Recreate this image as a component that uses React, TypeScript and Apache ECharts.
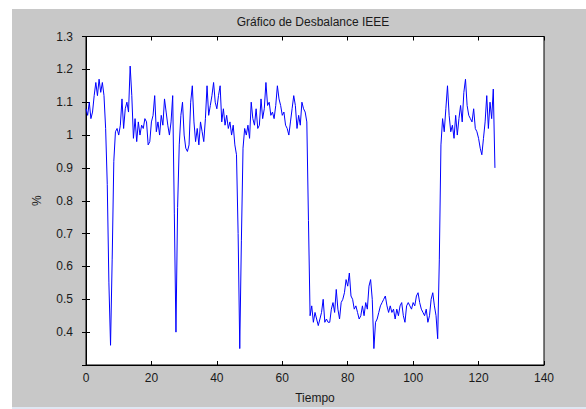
import React, { useEffect, useRef } from "react";
import * as echarts from "echarts";

const chartTitle = "Gráfico de Desbalance IEEE";
const xAxisName = "Tiempo";
const yAxisName = "%";
const xTicks = [0, 20, 40, 60, 80, 100, 120, 140];
const yTicks = [0.3, 0.4, 0.5, 0.6, 0.7, 0.8, 0.9, 1.0, 1.1, 1.2, 1.3];

// sample time spacing of the measurement
const sampleStart = 0;
const sampleStep = 0.5;

// t = 0 .. 28.5
const valuesA = [
  1.08, 1.06, 1.1, 1.05, 1.07, 1.12, 1.16, 1.12, 1.17, 1.13, 1.16, 1.12, 1.02,
  0.85, 0.55, 0.36, 0.62, 0.92, 1.01, 1.02, 1.0, 1.03, 1.11, 1.02, 1.08, 1.1,
  1.07, 1.21, 1.12, 0.99, 1.05, 0.98, 1.04, 1.0, 1.03, 1.02, 1.05, 1.04, 0.97,
  0.98, 1.04, 1.06, 1.12, 1.01, 1.04, 1.0, 1.06, 1.03, 1.11, 1.07, 1.03, 1.0,
  1.04, 1.12, 0.76, 0.4, 0.78, 0.97,
];
// t = 29 .. 68
const valuesB = [
  1.06, 1.1, 1.0, 0.96, 0.95, 0.97, 1.1, 1.15, 1.04, 0.98, 1.02, 0.97, 1.04,
  1.01, 0.98, 1.05, 1.15, 1.06, 1.09, 1.12, 1.16, 1.1, 1.08, 1.12, 1.15, 1.04,
  1.08, 1.03, 1.06, 1.02, 1.04, 1.0, 1.03, 0.97, 0.94, 0.7, 0.35, 0.68, 0.96,
  1.02, 1.0, 1.03, 0.99, 1.1, 1.05, 1.03, 1.08, 1.02, 1.03, 1.11, 1.05, 1.08,
  1.16, 1.09, 1.1, 1.06, 1.07, 1.05, 1.09, 1.15, 1.11, 1.09, 1.06, 1.07, 1.03,
  1.02, 1.0, 1.04, 1.08, 1.12, 1.09, 1.02, 1.06, 1.03, 1.1, 1.08, 1.07, 1.04,
  0.74,
];
// t = 68.5 .. 107.5
const valuesC = [
  0.45, 0.48, 0.43, 0.46, 0.44, 0.42, 0.44, 0.46, 0.5, 0.43, 0.44, 0.43, 0.43,
  0.47, 0.49, 0.46, 0.53, 0.47, 0.44, 0.49, 0.5, 0.52, 0.56, 0.54, 0.58, 0.51,
  0.5, 0.47, 0.48, 0.46, 0.44, 0.45, 0.48, 0.45, 0.49, 0.47, 0.54, 0.56, 0.5,
  0.35, 0.43, 0.44, 0.46, 0.48, 0.49, 0.5, 0.51, 0.48, 0.46, 0.48, 0.46, 0.47,
  0.44, 0.47, 0.45, 0.48, 0.49, 0.45, 0.43, 0.48, 0.49, 0.48, 0.47, 0.49, 0.48,
  0.51, 0.52, 0.49, 0.47, 0.46, 0.45, 0.47, 0.43, 0.45, 0.5, 0.52, 0.48, 0.45,
  0.38,
];
// t = 108 .. 125
const valuesD = [
  0.62, 0.97, 1.05, 1.01, 1.08, 1.15, 1.06, 1.01, 1.03, 0.99, 1.06, 1.0, 1.05,
  1.09, 1.04, 1.13, 1.17, 1.09, 1.06, 1.05, 1.04, 1.08, 1.02, 1.01, 0.99, 0.96,
  0.94, 0.99, 1.04, 1.12, 1.02, 1.1, 1.05, 1.14, 0.9,
];

const FONT = "'Liberation Sans', Arial, Helvetica, sans-serif";
const TEXT = "#1a1a1a";

export default function App() {
  const ref = useRef<HTMLDivElement>(null);
  useEffect(() => {
    if (!ref.current) return;
    const chart = echarts.init(ref.current, null, { renderer: "svg" });
    const values = [...valuesA, ...valuesB, ...valuesC, ...valuesD];
    const data = values.map((v, i) => [sampleStart + i * sampleStep, v]);
    const xMin = xTicks[0];
    const xMax = xTicks[xTicks.length - 1];
    const xInt = xTicks[1] - xTicks[0];
    const yMin = yTicks[0];
    const yMax = yTicks[yTicks.length - 1];
    const fmtY = (v: number) => String(parseFloat(v.toFixed(1)));
    const tick = { show: true, inside: true, length: 4, lineStyle: { color: "#000", width: 1 } };
    const line = { show: true, lineStyle: { color: "#000", width: 1 } };
    chart.setOption({
      animation: false,
      backgroundColor: "#ffffff",
      graphic: [
        { type: "rect", z: -100, shape: { x: 12, y: 9, width: 574, height: 398 }, style: { fill: "#c8c8c8" } },
        { type: "rect", z: -100, shape: { x: 12, y: 407, width: 574, height: 2 }, style: { fill: "#dfe7f2" } },
        {
          type: "text",
          z: 100,
          x: 313,
          y: 22,
          style: {
            text: chartTitle,
            fill: TEXT,
            font: `12px ${FONT}`,
            textAlign: "center",
            textVerticalAlign: "middle",
          },
        },
      ],
      grid: {
        left: 86,
        top: 36.5,
        width: 458,
        height: 329,
        show: true,
        backgroundColor: "#ffffff",
        borderColor: "#000",
        borderWidth: 1,
      },
      xAxis: [
        {
          type: "value",
          min: xMin,
          max: xMax,
          interval: xInt,
          position: "bottom",
          axisLine: line,
          axisTick: tick,
          splitLine: { show: false },
          axisLabel: { color: TEXT, fontFamily: FONT, fontSize: 12, margin: 7 },
          name: xAxisName,
          nameLocation: "middle",
          nameGap: 27,
          nameTextStyle: { color: TEXT, fontFamily: FONT, fontSize: 12 },
        },
        {
          type: "value",
          min: xMin,
          max: xMax,
          interval: xInt,
          position: "top",
          axisLine: line,
          axisTick: tick,
          splitLine: { show: false },
          axisLabel: { show: false },
        },
      ],
      yAxis: [
        {
          type: "value",
          min: yMin,
          max: yMax,
          interval: 0.1,
          position: "left",
          axisLine: line,
          axisTick: tick,
          splitLine: { show: false },
          axisLabel: {
            color: TEXT,
            fontFamily: FONT,
            fontSize: 12,
            margin: 13,
            showMinLabel: false,
            formatter: fmtY,
          },
          name: yAxisName,
          nameLocation: "middle",
          nameGap: 43,
          nameRotate: 90,
          nameTextStyle: { color: TEXT, fontFamily: FONT, fontSize: 12 },
        },
        {
          type: "value",
          min: yMin,
          max: yMax,
          interval: 0.1,
          position: "right",
          axisLine: line,
          axisTick: tick,
          splitLine: { show: false },
          axisLabel: { show: false },
        },
      ],
      series: [
        {
          type: "line",
          data,
          xAxisIndex: 0,
          yAxisIndex: 0,
          showSymbol: false,
          symbol: "none",
          lineStyle: { color: "#0000ff", width: 1 },
        },
      ],
    });
    return () => chart.dispose();
  }, []);
  return (
    <div
      ref={ref}
      style={{ position: "fixed", left: 0, top: 0, width: 586, height: 409 }}
    />
  );
}
